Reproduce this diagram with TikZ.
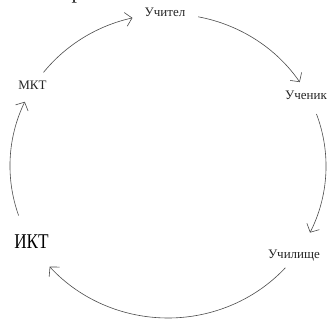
\documentclass[tikz,border=0pt]{standalone}
\usepackage{fontspec}
\setmainfont{Liberation Serif}
\usetikzlibrary{arrows.meta,calc}
\tikzset{
  lbl/.style={inner sep=0pt, anchor=base, text=black!85, font=\fontsize{13}{15}\selectfont},
  cyc/.style={draw=black!70, line width=0.6pt, -{Straight Barb[length=6.5pt,width=14pt,line width=0.6pt]}},
}
\begin{document}
\begin{tikzpicture}[x=1pt,y=1pt]
\useasboundingbox (0,0) rectangle (331,321);
\fill[white] (0,0) rectangle (331,321);
% cut-off glyph at the top edge
\node[lbl, font=\fontsize{22}{24}\selectfont] (frag) at (77,322) {р};
% labels
\node[lbl] (uchitel) at (165,304) {Учител};
\node[lbl] (uchenik) at (306,221) {Ученик};
\node[lbl] (uchil) at (294,63) {Училище};
\node[lbl, text=black, font=\fontsize{21}{23}\selectfont, xscale=0.82] (ikt) at (31.5,73) {ИКТ};
\node[lbl] (mkt) at (32.5,231) {МКТ};
% ellipse centre and arc start points
\coordinate (c) at (168,155);
\coordinate (s1) at ($(c)+(142:158 and 152)$);
\coordinate (s2) at ($(c)+(79:158 and 152)$);
\coordinate (s3) at ($(c)+(20:158 and 152)$);
\coordinate (s4) at ($(c)+(-42:158 and 152)$);
\coordinate (s5) at ($(c)+(-161:158 and 152)$);
% connectors
\draw[cyc] (s1) arc[start angle=142, end angle=103, x radius=158, y radius=152];
\draw[cyc] (s2) arc[start angle=79, end angle=33.5, x radius=158, y radius=152];
\draw[cyc] (s3) arc[start angle=20, end angle=-26, x radius=158, y radius=152];
\draw[cyc] (s4) arc[start angle=-42, end angle=-138.5, x radius=158, y radius=152];
\draw[cyc] (s5) arc[start angle=-161, end angle=-205, x radius=158, y radius=152];
\end{tikzpicture}
\end{document}
